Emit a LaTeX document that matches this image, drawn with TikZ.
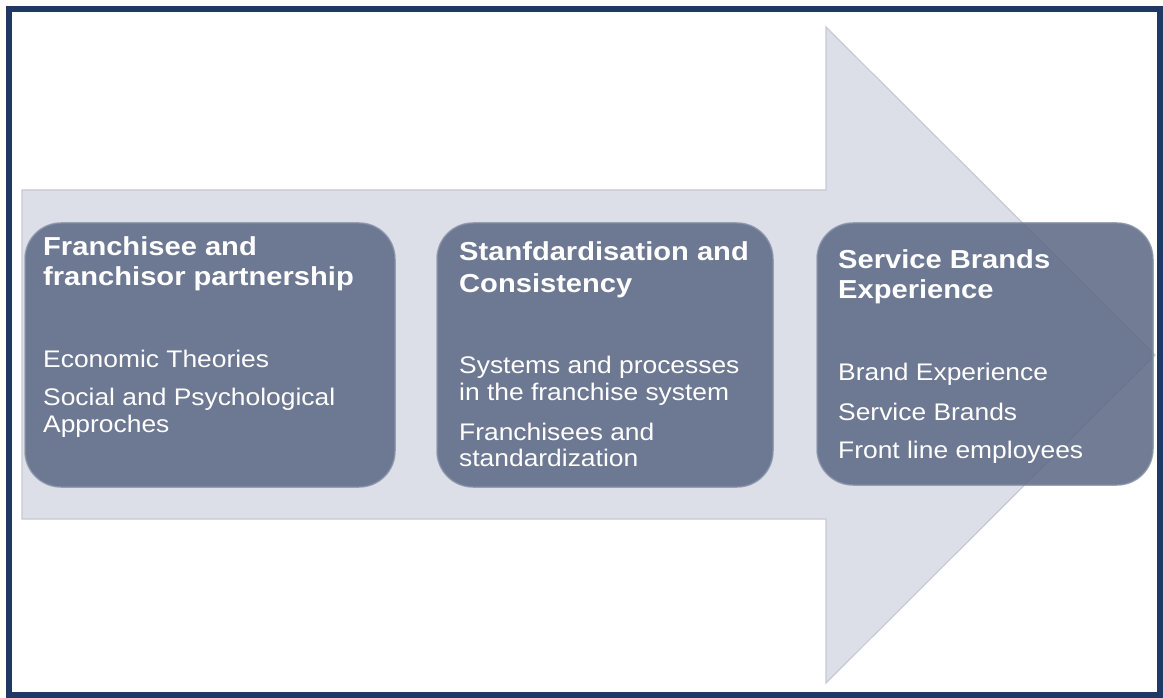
\documentclass[tikz,border=0pt]{standalone}
\usepackage{fontspec}
\setmainfont{Liberation Sans}[FakeStretch=1.1, BoldFeatures={FakeStretch=1.12}]
\definecolor{navy}{HTML}{1F3864}
\definecolor{arrowfill}{HTML}{DCDFE8}
\definecolor{arrowline}{HTML}{C6CAD3}
\definecolor{boxc}{HTML}{5B6884}
\definecolor{boxline}{HTML}{8792A8}
\tikzset{
  arrowshape/.style={fill=arrowfill, draw=arrowline, line width=1.2pt, line join=miter},
  box/.style={rectangle, rounded corners=36pt, fill=boxc, fill opacity=0.86,
    draw=boxline, draw opacity=0.8, line width=1.5pt, inner sep=0pt, outer sep=0pt},
  ttl/.style={anchor=base west, inner sep=0pt, text=white,
    font=\fontsize{26}{30}\selectfont\bfseries},
  bdy/.style={anchor=base west, inner sep=0pt, text=white,
    font=\fontsize{24}{27}\selectfont},
}
\begin{document}
\begin{tikzpicture}[x=1pt,y=-1pt]
\useasboundingbox (0,0) rectangle (1163,698);
\fill[white] (0,0) rectangle (1163,698);
% big arrow
\draw[arrowshape] (22,190) -- (826,190) -- (826,27) -- (1155,355) -- (826,683)
  -- (826,519) -- (22,519) -- cycle;
% boxes
\node[box, minimum width=370pt, minimum height=264pt] (b1) at (210,355) {};
\node[box, minimum width=336pt, minimum height=264pt] (b2) at (605,355) {};
\node[box, minimum width=336pt, minimum height=262pt] (b3) at (985,354) {};
% box 1 text
\node[ttl] (t1a) at (43,255) {Franchisee and};
\node[ttl] (t1b) at (43,285) {franchisor partnership};
\node[bdy] (s1a) at (43,367) {Economic Theories};
\node[bdy] (s1b) at (43,405) {Social and Psychological};
\node[bdy] (s1c) at (43,432) {Approches};
% box 2 text
\node[ttl] (t2a) at (459,260) {Stanfdardisation and};
\node[ttl] (t2b) at (459,292) {Consistency};
\node[bdy] (s2a) at (459,373) {Systems and processes};
\node[bdy] (s2b) at (459,400) {in the franchise system};
\node[bdy] (s2c) at (459,440) {Franchisees and};
\node[bdy] (s2d) at (459,466) {standardization};
% box 3 text
\node[ttl] (t3a) at (838,268) {Service Brands};
\node[ttl] (t3b) at (838,298) {Experience};
\node[bdy] (s3a) at (838,380) {Brand Experience};
\node[bdy] (s3b) at (838,420) {Service Brands};
\node[bdy] (s3c) at (838,458) {Front line employees};
% frame
\draw[navy, line width=6pt] (8.5,9) rectangle (1159.5,694.5);
\end{tikzpicture}
\end{document}
